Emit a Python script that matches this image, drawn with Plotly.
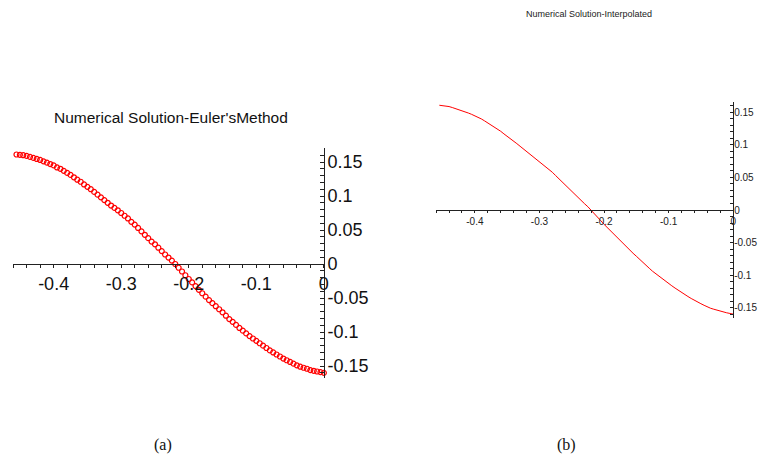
import plotly.graph_objects as go

# ---- data ----
t_values = [
    -0.455, -0.450, -0.445, -0.440, -0.435, -0.430, -0.425, -0.420, -0.415, -0.410,
    -0.405, -0.400, -0.395, -0.390, -0.385, -0.380, -0.375, -0.370, -0.365, -0.360,
    -0.355, -0.350, -0.345, -0.340, -0.335, -0.330, -0.325, -0.320, -0.315, -0.310,
    -0.305, -0.300, -0.295, -0.290, -0.285, -0.280, -0.275, -0.270, -0.265, -0.260,
    -0.255, -0.250, -0.245, -0.240, -0.235, -0.230, -0.225, -0.220, -0.215, -0.210,
    -0.205, -0.200, -0.195, -0.190, -0.185, -0.180, -0.175, -0.170, -0.165, -0.160,
    -0.155, -0.150, -0.145, -0.140, -0.135, -0.130, -0.125, -0.120, -0.115, -0.110,
    -0.105, -0.100, -0.095, -0.090, -0.085, -0.080, -0.075, -0.070, -0.065, -0.060,
    -0.055, -0.050, -0.045, -0.040, -0.035, -0.030, -0.025, -0.020, -0.015, -0.010,
    -0.005, 0.000,
]
euler_values = [
    0.161, 0.1605, 0.160, 0.159, 0.1575, 0.156, 0.1545, 0.153, 0.151, 0.149,
    0.147, 0.145, 0.142, 0.140, 0.137, 0.134, 0.131, 0.1275, 0.124, 0.121,
    0.117, 0.1135, 0.110, 0.106, 0.102, 0.098, 0.094, 0.090, 0.086, 0.0825,
    0.079, 0.075, 0.071, 0.067, 0.062, 0.058, 0.053, 0.048, 0.043, 0.038,
    0.033, 0.029, 0.024, 0.019, 0.014, 0.0095, 0.005, 0.000, -0.0055, -0.011,
    -0.0165, -0.022, -0.027, -0.0325, -0.038, -0.043, -0.048, -0.053, -0.0575, -0.062,
    -0.0665, -0.071, -0.076, -0.081, -0.085, -0.0895, -0.094, -0.098, -0.102, -0.106,
    -0.1095, -0.113, -0.1165, -0.120, -0.1235, -0.127, -0.130, -0.133, -0.136, -0.139,
    -0.1415, -0.144, -0.1465, -0.149, -0.151, -0.1525, -0.154, -0.156, -0.157, -0.158,
    -0.159, -0.160,
]

x_tickvals = [-0.4, -0.3, -0.2, -0.1, 0.0]
x_ticktext = ["-0.4", "-0.3", "-0.2", "-0.1", "0"]
y_tickvals = [-0.15, -0.1, -0.05, 0.0, 0.05, 0.1, 0.15]
y_ticktext = ["-0.15", "-0.1", "-0.05", "0", "0.05", "0.1", "0.15"]

title_a = "Numerical Solution-Euler'sMethod"
title_b = "Numerical Solution-Interpolated"

W, H = 764, 463
SANS = "Liberation Sans, Arial, sans-serif"
AX = "#222222"

fig = go.Figure()
fig.add_trace(go.Scatter(
    x=t_values, y=euler_values, mode="markers", xaxis="x", yaxis="y",
    marker=dict(symbol="circle-open", size=5, color="red", line=dict(width=1.2, color="red")),
    cliponaxis=False, showlegend=False,
))
fig.add_trace(go.Scatter(
    x=t_values, y=euler_values, mode="lines", xaxis="x2", yaxis="y2",
    line=dict(color="red", width=1), cliponaxis=False, showlegend=False,
))

def px_x(p):
    return p / W

def px_y(p):
    return 1 - p / H

common_x = dict(showgrid=False, zeroline=False, showline=True, linecolor=AX, linewidth=1,
                ticks="outside", tickcolor=AX, tickmode="array", tickvals=x_tickvals,
                ticktext=x_ticktext, range=[-0.46, 0.0], anchor="free")
common_y = dict(showgrid=False, zeroline=False, showline=True, linecolor=AX, linewidth=1,
                ticks="inside", tickcolor=AX, tickmode="array", tickvals=y_tickvals,
                ticktext=y_ticktext, side="right")

fig.update_layout(
    width=W, height=H,
    margin=dict(l=0, r=0, t=0, b=0),
    paper_bgcolor="white", plot_bgcolor="white",
    showlegend=False,
    xaxis=dict(common_x, domain=[px_x(13.2), px_x(326)], position=px_y(264),
               ticklen=3, tickfont=dict(family=SANS, size=18, color="#111"),
               minor=dict(ticks="outside", ticklen=3, tickcolor=AX, dtick=0.02, tick0=0)),
    yaxis=dict(common_y, domain=[px_y(377.6), px_y(148.4)], range=[-0.167, 0.17],
               anchor="x", ticklen=4, ticklabelstandoff=-1,
               tickfont=dict(family=SANS, size=18, color="#111"),
               minor=dict(ticks="inside", ticklen=4, tickcolor=AX, dtick=0.01, tick0=0)),
    xaxis2=dict(common_x, domain=[px_x(439), px_x(738)], position=px_y(210),
                ticklen=2, tickfont=dict(family=SANS, size=10, color="#222"),
                minor=dict(ticks="outside", ticklen=2, tickcolor=AX, dtick=0.02, tick0=0)),
    yaxis2=dict(common_y, domain=[px_y(318), px_y(102)], range=[-0.166, 0.166],
                anchor="x2", ticklen=3, ticklabelstandoff=-2,
                tickfont=dict(family=SANS, size=10, color="#222"),
                minor=dict(ticks="inside", ticklen=3, tickcolor=AX, dtick=0.01, tick0=0)),
    annotations=[
        dict(text=title_a, x=px_x(171.7), y=px_y(117), xref="paper", yref="paper",
             showarrow=False, xanchor="center", yanchor="middle",
             font=dict(family=SANS, size=15.5, color="#111")),
        dict(text=title_b, x=px_x(592.7), y=px_y(14), xref="paper", yref="paper",
             showarrow=False, xanchor="center", yanchor="middle",
             font=dict(family=SANS, size=9, color="#222")),
        dict(text="(a)", x=px_x(164), y=px_y(445), xref="paper", yref="paper",
             showarrow=False, xanchor="center", yanchor="middle",
             font=dict(family="Liberation Serif, serif", size=16, color="#111")),
        dict(text="(b)", x=px_x(570), y=px_y(445), xref="paper", yref="paper",
             showarrow=False, xanchor="center", yanchor="middle",
             font=dict(family="Liberation Serif, serif", size=16, color="#111")),
    ],
)

fig.write_html("out.html", config={"displayModeBar": False},
               post_script="document.body.style.margin='0';document.body.style.padding='0';")
